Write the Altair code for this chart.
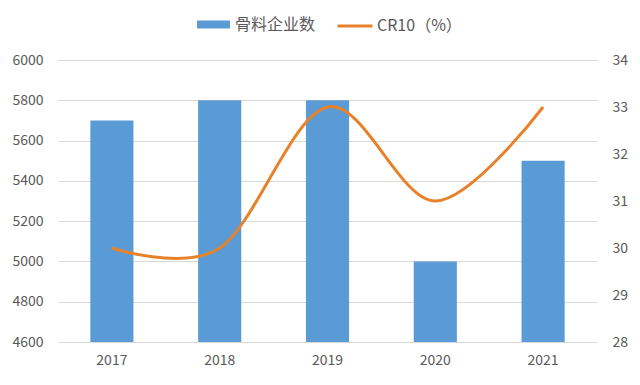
import altair as alt
import pandas as pd

years = ["2017", "2018", "2019", "2020", "2021"]
companies = [5700, 5800, 5800, 5000, 5500]
cr10 = [30, 30, 33, 31, 33]
bar_name = "骨料企业数"
line_name = "CR10（%）"

df = pd.DataFrame({"year": years, "companies": companies, "cr10": cr10,
                   "s1": [bar_name] * 5, "s2": [line_name] * 5})

FONT = "Noto Sans CJK SC"
GRAY = "#595959"

x = alt.X("year:N", title=None,
          scale=alt.Scale(paddingInner=0.6, paddingOuter=0.3),
          axis=alt.Axis(labelAngle=0, domain=False, ticks=False, labelPadding=11,
                        labelFontSize=14, labelColor=GRAY, labelFont=FONT))

bars = alt.Chart(df).mark_bar(clip=True).encode(
    x=x,
    y=alt.Y("companies:Q", title=None,
            scale=alt.Scale(domain=[4600, 6000], nice=False, zero=False),
            axis=alt.Axis(values=list(range(4600, 6001, 200)), orient="left", format="d",
                          domain=False, ticks=False, labelPadding=15,
                          labelFontSize=14, labelColor=GRAY, labelFont=FONT,
                          grid=True, gridColor="#D9D9D9")),
    color=alt.Color("s1:N",
                    scale=alt.Scale(domain=[bar_name], range=["#5B9BD5"]),
                    legend=alt.Legend(title=None, orient="none", legendX=147, legendY=-44,
                                      symbolType="M-2,-0.5H2V0.5H-2Z", symbolSize=272,
                                      labelOffset=13,
                                      labelFontSize=16, labelColor=GRAY, labelFont=FONT,
                                      symbolStrokeWidth=0)),
)

line = alt.Chart(df).mark_line(strokeWidth=3, interpolate="cardinal", color="#E8822A").encode(
    x=x,
    y=alt.Y("cr10:Q", title=None,
            scale=alt.Scale(domain=[28, 34], nice=False, zero=False),
            axis=alt.Axis(values=list(range(28, 35)), orient="right",
                          domain=False, ticks=False, labelPadding=15, grid=False,
                          labelFontSize=14, labelColor=GRAY, labelFont=FONT)),
    stroke=alt.Stroke("s2:N",
                      scale=alt.Scale(domain=[line_name], range=["#E8822A"]),
                      legend=alt.Legend(title=None, orient="none", legendX=278, legendY=-53,
                                        symbolType="stroke", symbolSize=1225, symbolStrokeWidth=3,
                                        labelOffset=3,
                                        labelFontSize=16, labelColor=GRAY, labelFont=FONT)),
)

chart = alt.layer(bars, line).resolve_scale(y="independent").properties(
    width=539, height=282,
    autosize=alt.AutoSizeParams(type="none"),
    padding={"left": 50, "top": 52, "right": 34, "bottom": 30},
    background="white",
).configure_view(stroke=None)

chart.save("out.html", embed_options={"renderer": "svg", "actions": False})
